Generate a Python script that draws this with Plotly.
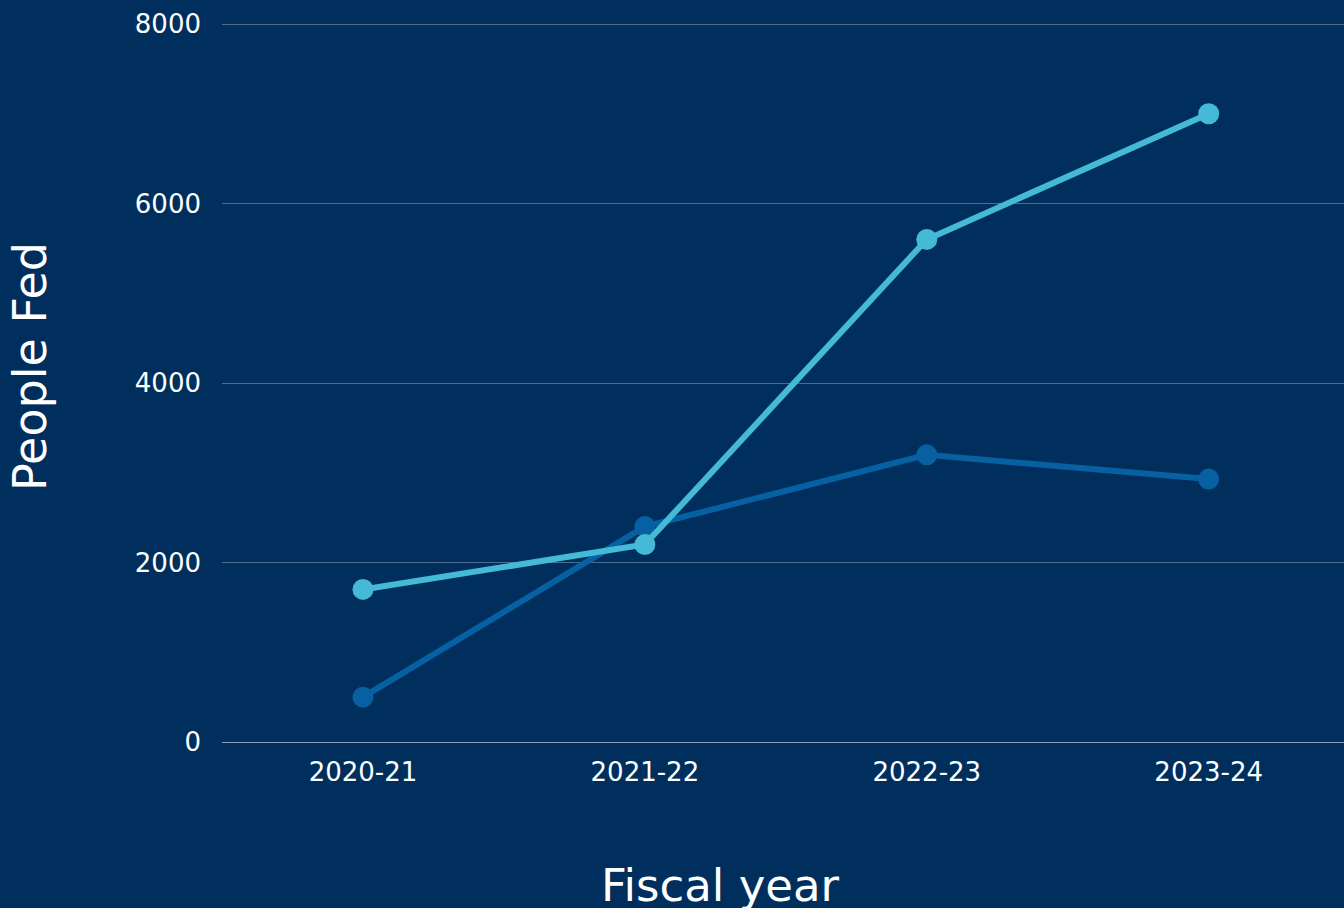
import plotly.graph_objects as go

years = ["2020-21", "2021-22", "2022-23", "2023-24"]
series_dark = [500, 2400, 3200, 2930]
series_light = [1700, 2200, 5600, 7000]
y_ticks = [0, 2000, 4000, 6000, 8000]

bg = "#002F5E"
fig = go.Figure()
fig.add_trace(go.Scatter(x=years, y=series_dark, mode="lines+markers",
                         line=dict(color="#0760A2", width=6),
                         marker=dict(size=21, color="#0760A2"), showlegend=False))
fig.add_trace(go.Scatter(x=years, y=series_light, mode="lines+markers",
                         line=dict(color="#44BAD7", width=6),
                         marker=dict(size=21, color="#44BAD7"), showlegend=False))

W, H = 1344, 908
l, r, t, b = 222, 0, 20, 166
pw, ph = W - l - r, H - t - b

font = "DejaVu Sans, sans-serif"
fig.update_layout(
    width=W, height=H,
    paper_bgcolor=bg, plot_bgcolor=bg,
    margin=dict(l=l, r=r, t=t, b=b),
    font=dict(family=font, color="white", size=26),
    xaxis=dict(range=[-0.5, 3.48], showgrid=False, ticks="", zeroline=False,
               tickfont=dict(size=26), ticklabelstandoff=12),
    yaxis=dict(range=[0, 8045], tickvals=y_ticks, ticks="",
               gridcolor="rgba(255,255,255,0.3)", gridwidth=1,
               zeroline=True, zerolinecolor="rgba(255,255,255,0.55)", zerolinewidth=1,
               tickfont=dict(size=26), ticklabelstandoff=20),
    annotations=[
        dict(text="Fiscal year", xref="paper", yref="paper",
             x=(720 - l) / pw, y=(H - 885 - b) / ph,
             xanchor="center", yanchor="middle", showarrow=False,
             font=dict(size=45)),
        dict(text="People Fed", xref="paper", yref="paper",
             x=(30 - l) / pw, y=(H - 367 - b) / ph, textangle=-90,
             xanchor="center", yanchor="middle", showarrow=False,
             font=dict(size=46)),
    ],
)
fig.write_html("out.html")
